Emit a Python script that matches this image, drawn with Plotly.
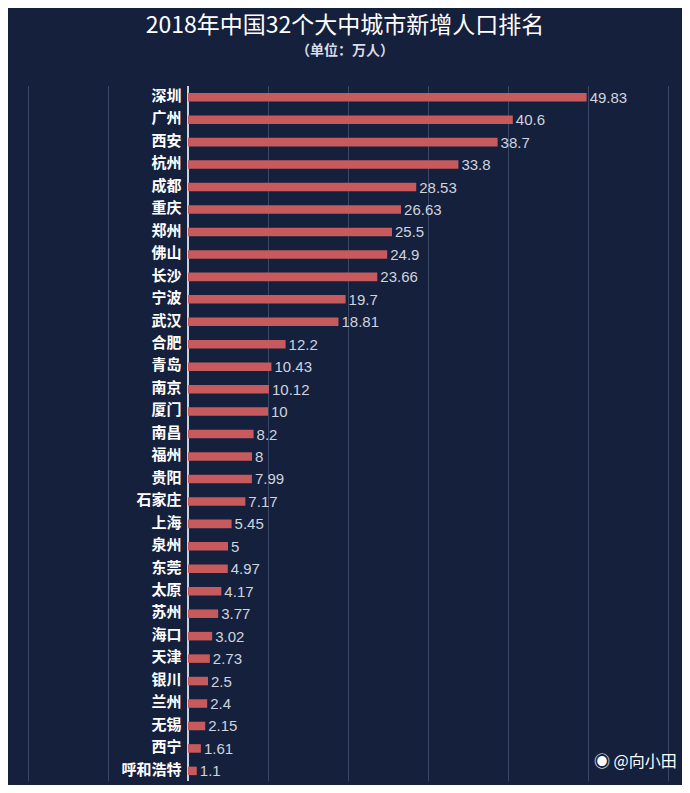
import plotly.graph_objects as go

cities = ["深圳", "广州", "西安", "杭州", "成都", "重庆", "郑州", "佛山", "长沙", "宁波",
          "武汉", "合肥", "青岛", "南京", "厦门", "南昌", "福州", "贵阳", "石家庄", "上海",
          "泉州", "东莞", "太原", "苏州", "海口", "天津", "银川", "兰州", "无锡", "西宁", "呼和浩特"]
values = [49.83, 40.6, 38.7, 33.8, 28.53, 26.63, 25.5, 24.9, 23.66, 19.7,
          18.81, 12.2, 10.43, 10.12, 10, 8.2, 8, 7.99, 7.17, 5.45,
          5, 4.97, 4.17, 3.77, 3.02, 2.73, 2.5, 2.4, 2.15, 1.61, 1.1]
value_labels = ["49.83", "40.6", "38.7", "33.8", "28.53", "26.63", "25.5", "24.9", "23.66", "19.7",
                "18.81", "12.2", "10.43", "10.12", "10", "8.2", "8", "7.99", "7.17", "5.45",
                "5", "4.97", "4.17", "3.77", "3.02", "2.73", "2.5", "2.4", "2.15", "1.61", "1.1"]

bg = "#15203d"
font = "Noto Sans CJK SC"

fig = go.Figure()

# bars with value labels
fig.add_trace(go.Bar(
    x=values, y=cities, orientation="h",
    marker=dict(color="#c65a5c", line=dict(width=0)),
    width=0.38,
    text=value_labels, textposition="outside", cliponaxis=False,
    constraintext="none",
    textfont=dict(color="#cfd4de", size=15, family="Liberation Sans"),
))

# city names to the left of the axis
fig.add_trace(go.Scatter(
    x=[-0.8] * len(cities), y=cities, mode="text",
    text=["<b>%s</b>" % c for c in cities], textposition="middle left",
    textfont=dict(color="white", size=15, family=font),
))

fig.update_layout(
    width=674, height=777,
    paper_bgcolor=bg, plot_bgcolor=bg,
    margin=dict(l=0, r=0, t=78, b=4),
    showlegend=False,
    title=dict(text="2018年中国32个大中城市新增人口排名", x=0.5, y=0.978,
               xanchor="center", yanchor="middle",
               font=dict(color="white", size=23, family=font)),
    annotations=[
        dict(text="<b>（单位：万人）</b>", x=0.5, y=1.053, xref="paper", yref="paper",
             yanchor="middle", showarrow=False,
             font=dict(color="#d8dce6", size=14, family=font)),
        dict(text="◉ @向小田", x=0.995, y=0.01, xref="paper", yref="paper",
             xanchor="right", yanchor="bottom", showarrow=False,
             font=dict(color="white", size=16, family=font)),
    ],
)

fig.update_xaxes(range=[-22.5, 61.75], dtick=10, tick0=0, showgrid=True,
                 gridcolor="#3a4868", gridwidth=1, zeroline=True,
                 zerolinecolor="#c9d0dd", zerolinewidth=2, showticklabels=False)
fig.update_yaxes(categoryorder="array", categoryarray=cities, range=[30.45, -0.5],
                 showticklabels=False, showgrid=False)

fig.write_html("out.html")
